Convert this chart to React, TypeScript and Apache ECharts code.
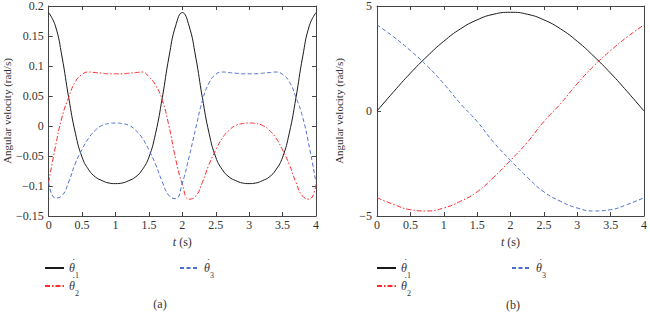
import React, { useEffect, useRef } from "react";
import * as echarts from "echarts";

// ---- Panel (a) data ----
const T_A = [0, 0.1, 0.2, 0.3, 0.4, 0.5, 0.6, 0.7, 0.8, 0.9, 1.0, 1.1, 1.2, 1.3, 1.4, 1.5, 1.6, 1.7, 1.8, 1.9, 2.0,
  2.1, 2.2, 2.3, 2.4, 2.5, 2.6, 2.7, 2.8, 2.9, 3.0, 3.1, 3.2, 3.3, 3.4, 3.5, 3.6, 3.7, 3.8, 3.9, 4.0];
const A_THETA1 = [0.189, 0.167, 0.115, 0.047, -0.012, -0.052, -0.073, -0.085, -0.091, -0.095, -0.096,
  -0.095, -0.091, -0.085, -0.073, -0.052, -0.012, 0.047, 0.115, 0.167, 0.189,
  0.167, 0.115, 0.047, -0.012, -0.052, -0.073, -0.085, -0.091, -0.095, -0.096,
  -0.095, -0.091, -0.085, -0.073, -0.052, -0.012, 0.047, 0.115, 0.167, 0.189];
const A_THETA2 = [-0.094, -0.035, 0.015, 0.048, 0.074, 0.086, 0.090, 0.089, 0.088, 0.087, 0.087,
  0.087, 0.088, 0.089, 0.090, 0.082, 0.068, 0.043, 0.0, -0.055, -0.097,
  -0.122, -0.117, -0.094, -0.064, -0.040, -0.020, -0.007, 0.001, 0.004, 0.005,
  0.004, 0.001, -0.007, -0.020, -0.040, -0.064, -0.094, -0.117, -0.122, -0.097];
const A_THETA3 = [-0.094, -0.120, -0.116, -0.093, -0.062, -0.039, -0.020, -0.007, 0.001, 0.004, 0.005,
  0.004, 0.001, -0.007, -0.020, -0.040, -0.064, -0.093, -0.116, -0.121, -0.095,
  -0.052, -0.004, 0.042, 0.072, 0.086, 0.090, 0.089, 0.088, 0.087, 0.087,
  0.087, 0.088, 0.089, 0.090, 0.086, 0.074, 0.048, 0.015, -0.035, -0.094];
const A_Y_TICKS = { min: -0.15, max: 0.2, interval: 0.05 };

// ---- Panel (b) data ----
const T_B = [0, 0.25, 0.5, 0.75, 1.0, 1.25, 1.5, 1.75, 2.0, 2.25, 2.5, 2.75, 3.0, 3.25, 3.5, 3.75, 4.0];
const B_THETA1 = [0, 0.92, 1.8, 2.6, 3.32, 3.91, 4.34, 4.61, 4.70, 4.61, 4.34, 3.91, 3.32, 2.6, 1.8, 0.92, 0];
const B_THETA2 = [-4.13, -4.45, -4.70, -4.76, -4.62, -4.30, -3.85, -3.15, -2.35, -1.50, -0.50, 0.35, 1.30, 2.15, 2.88, 3.53, 4.10];
const B_THETA3 = [4.10, 3.53, 2.88, 2.15, 1.30, 0.35, -0.50, -1.50, -2.35, -3.15, -3.85, -4.30, -4.62, -4.76, -4.70, -4.45, -4.13];
const B_Y_TICKS = { min: -5, max: 5, interval: 5 };

const X_TICKS = { min: 0, max: 4, interval: 0.5 };
const NAMES = ["θ1", "θ2", "θ3"];
const CAPTIONS = ["(a)", "(b)"];
const Y_NAME = "Angular velocity (rad/s)";

const FONT = "Liberation Serif, Times New Roman, serif";
const AXIS_COLOR = "#444";
const TEXT_COLOR = "#333";
const COLORS = ["#1a1a1a", "#ff2a2a", "#4a6fd0"];
const DASHES: any[] = ["solid", [5, 2, 1.5, 2], [4, 2.5]];

const fmtNum = (v: number) => String(+v.toFixed(2)).replace("-", "\u2212");

function pairs(t: number[], v: number[]) {
  return t.map((x, i) => [x, v[i]]);
}

export default function App() {
  const ref = useRef<HTMLDivElement>(null);
  useEffect(() => {
    if (!ref.current) return;
    const chart = echarts.init(ref.current, undefined, { renderer: "svg" });

    const grids = [
      { left: 45, top: 5, width: 271, height: 211 },
      { left: 377, top: 5, width: 270, height: 211 },
    ];

    const axisLine = { show: true, onZero: false, lineStyle: { color: AXIS_COLOR, width: 1 } };
    const tick = { show: true, inside: true, length: 4, lineStyle: { color: AXIS_COLOR } };
    const labelStyle = { color: TEXT_COLOR, fontFamily: FONT, fontSize: 12 };

    const xAxes: any[] = [];
    const yAxes: any[] = [];
    [0, 1].forEach((g) => {
      xAxes.push({
        type: "value", gridIndex: g, position: "bottom", ...X_TICKS,
        axisLine, axisTick: tick, splitLine: { show: false },
        axisLabel: { ...labelStyle, margin: 3, formatter: fmtNum },
        name: "{i|t} (s)", nameLocation: "middle", nameGap: 19,
        nameTextStyle: { ...labelStyle, rich: { i: { fontStyle: "italic", fontFamily: FONT, fontSize: 12, color: TEXT_COLOR } } },
      });
      xAxes.push({
        type: "value", gridIndex: g, position: "top", ...X_TICKS,
        axisLine, axisTick: tick, splitLine: { show: false }, axisLabel: { show: false },
      });
      const yt = g === 0 ? A_Y_TICKS : B_Y_TICKS;
      yAxes.push({
        type: "value", gridIndex: g, position: "left", ...yt,
        axisLine, axisTick: tick, splitLine: { show: false },
        axisLabel: { ...labelStyle, margin: 5, formatter: fmtNum },
        name: Y_NAME, nameLocation: "middle", nameGap: g === 0 ? 31 : 33, nameRotate: 90,
        nameTextStyle: { ...labelStyle, fontSize: 11 },
      });
      yAxes.push({
        type: "value", gridIndex: g, position: "right", ...yt,
        axisLine, axisTick: { ...tick, show: g === 0 }, splitLine: { show: false }, axisLabel: { show: false },
      });
    });

    const panelData = [
      [A_THETA1, A_THETA2, A_THETA3],
      [B_THETA1, B_THETA2, B_THETA3],
    ];
    const times = [T_A, T_B];
    const series: any[] = [];
    [0, 1].forEach((g) => {
      panelData[g].forEach((vals, k) => {
        series.push({
          type: "line", name: NAMES[k], xAxisIndex: g * 2, yAxisIndex: g * 2,
          data: pairs(times[g], vals), smooth: true, symbol: "none", showSymbol: false,
          lineStyle: { color: COLORS[k], width: 1, type: DASHES[k] },
          itemStyle: { color: COLORS[k] },
        });
      });
    });

    const legendText = {
      color: TEXT_COLOR, fontFamily: FONT,
      rich: {
        d: { fontFamily: FONT, fontSize: 5, color: TEXT_COLOR, lineHeight: 4, width: 0, verticalAlign: "top" },
        t: { fontStyle: "italic", fontFamily: FONT, fontSize: 12, color: TEXT_COLOR, lineHeight: 22 },
        s: { fontFamily: FONT, fontSize: 8, color: TEXT_COLOR, verticalAlign: "bottom", lineHeight: 14 },
      },
    };
    const fmt = (n: string) => `{d|\u00A0\u00A0\u00A0\u2022}{t|\u03B8}{s|${n.slice(1)}}`;
    const legBase = {
      itemWidth: 19, itemHeight: 10, itemGap: -4, formatter: fmt, textStyle: legendText, padding: 0,
      selectedMode: false, itemStyle: { opacity: 0 },
    };
    const legend = [
      { ...legBase, data: [NAMES[0], NAMES[1]], orient: "vertical", left: 44, top: 257 },
      { ...legBase, data: [NAMES[2]], left: 179, top: 257 },
      { ...legBase, data: [NAMES[0], NAMES[1]], orient: "vertical", left: 376, top: 257 },
      { ...legBase, data: [NAMES[2]], left: 511, top: 257 },
    ];

    chart.setOption({
      animation: false,
      backgroundColor: "#fff",
      grid: grids,
      xAxis: xAxes,
      yAxis: yAxes,
      series,
      legend,
      graphic: [
        { type: "text", x: 160, y: 304, style: { text: CAPTIONS[0], fill: TEXT_COLOR, font: `12px ${FONT}`, textAlign: "center", textVerticalAlign: "middle" } },
        { type: "text", x: 513, y: 305, style: { text: CAPTIONS[1], fill: TEXT_COLOR, font: `12px ${FONT}`, textAlign: "center", textVerticalAlign: "middle" } },
      ],
    });
    return () => chart.dispose();
  }, []);
  return <div ref={ref} style={{ position: "fixed", left: 0, top: 0, width: 650, height: 316 }} />;
}
